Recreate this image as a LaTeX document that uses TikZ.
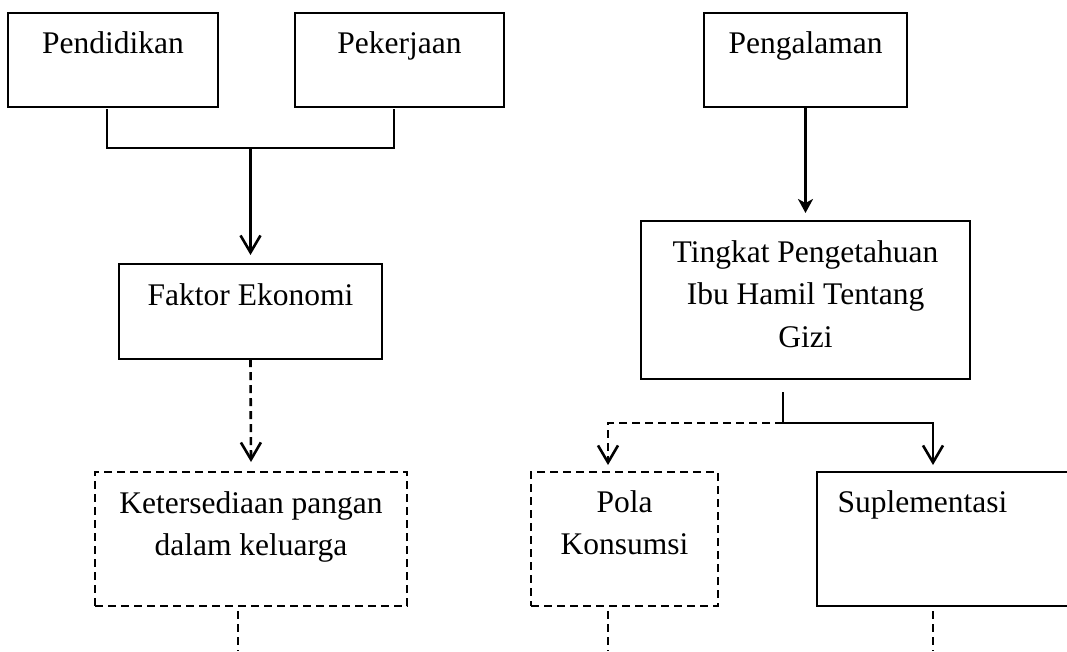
\documentclass[tikz,border=0pt]{standalone}
\usepackage{fontspec}
\setmainfont{Liberation Serif}
\usetikzlibrary{arrows.meta}
\begin{document}
\begin{tikzpicture}[x=1pt,y=-1pt,
  boxsolid/.style={draw,line width=2.1pt,inner sep=0pt,outer sep=0pt},
  boxdash/.style={boxsolid,dash pattern=on 8pt off 5pt},
  lbl/.style={anchor=base,inner sep=0pt,font=\fontsize{31.5}{42.5}\selectfont},
  conn/.style={line width=2.6pt},
  dconn/.style={conn,dash pattern=on 8pt off 5pt},
  vtip/.style={-{Straight Barb[length=17pt,width=20pt]}},
  ftip/.style={-{Stealth[length=14pt,width=15pt,inset=4pt]}}]
\useasboundingbox (0,0) rectangle (1067,651);
\clip (0,0) rectangle (1067,651);
% boxes
\node[boxsolid,minimum width=210pt,minimum height=94pt] (pend) at (113,60) {};
\node[lbl] (pendT) at (113,53) {Pendidikan};
\node[boxsolid,minimum width=209pt,minimum height=94pt] (peker) at (399.5,60) {};
\node[lbl] (pekerT) at (399.5,53) {Pekerjaan};
\node[boxsolid,minimum width=203pt,minimum height=94pt] (peng) at (805.5,60) {};
\node[lbl] (pengT) at (805.5,53) {Pengalaman};
\node[boxsolid,minimum width=263pt,minimum height=95pt] (fak) at (250.5,311.5) {};
\node[lbl] (fakT) at (250.5,305) {Faktor Ekonomi};
\node[boxsolid,minimum width=329pt,minimum height=158pt] (ting) at (805.5,300) {};
\node[lbl] (tingT) at (805.5,262) {\begin{tabular}[t]{@{}c@{}}Tingkat Pengetahuan\\Ibu Hamil Tentang\\Gizi\end{tabular}};
\node[boxdash,minimum width=312pt,minimum height=134pt] (ket) at (251,539) {};
\node[lbl] (ketT) at (251,513) {\begin{tabular}[t]{@{}c@{}}Ketersediaan pangan\\dalam keluarga\end{tabular}};
\node[boxdash,minimum width=187pt,minimum height=134pt] (pola) at (624.5,539) {};
\node[lbl] (polaT) at (624.5,512) {\begin{tabular}[t]{@{}c@{}}Pola\\Konsumsi\end{tabular}};
\node[boxsolid,minimum width=270pt,minimum height=134pt] (supl) at (952,539) {};
\node[lbl] (suplT) at (922.5,512) {Suplementasi};
% connector points
\coordinate (pendL) at (107,148);
\coordinate (pekL) at (394,148);
\coordinate (j1) at (250.5,148);
\coordinate (ketTail) at (238,651);
\coordinate (split) at (783,423);
\coordinate (polaA) at (608,423);
\coordinate (polaTip) at (608,465);
\coordinate (suplA) at (933,423);
\coordinate (suplTip) at (933,465);
\coordinate (polaTail) at (608,651);
\coordinate (suplTail) at (933,651);
% connectors
\draw[conn] (pendL |- pend.south) ++(0,2) -- (pendL) -- (pekL) -- ([yshift=-2pt]pekL |- peker.south);
\draw[conn,vtip] (j1) -- ([yshift=9pt]fak.north);
\draw[dconn,vtip] (fak.south) -- ([yshift=10pt]ket.north);
\draw[dconn] (ketTail |- ket.south) ++(0,5) -- (ketTail);
\draw[conn,ftip] (peng.south) -- ([yshift=8pt]ting.north);
\draw[conn] (split |- ting.south) ++(0,13) -- (split);
\draw[dconn,vtip] (split) -- (polaA) -- (polaTip);
\draw[conn,vtip] (split) -- (suplA) -- (suplTip);
\draw[dconn] (polaTail |- pola.south) ++(0,5) -- (polaTail);
\draw[dconn] (suplTail |- supl.south) ++(0,5) -- (suplTail);
\end{tikzpicture}
\end{document}
